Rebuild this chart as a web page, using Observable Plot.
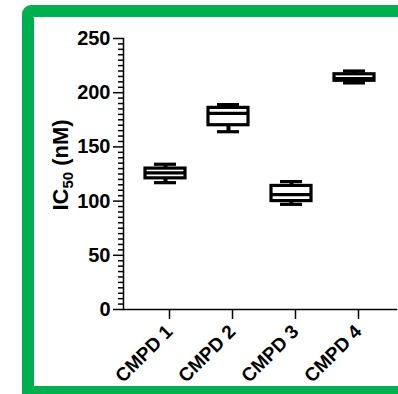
<!DOCTYPE html>
<html>
<head>
<meta charset="utf-8">
<script src="https://cdn.jsdelivr.net/npm/d3@7"></script>
<script src="https://cdn.jsdelivr.net/npm/@observablehq/plot@0.6"></script>
<style>
  body { margin: 0; background: #fff; }
  #wrap { position: relative; width: 398px; height: 394px; overflow: hidden; background: #fff; }
  #frame { position: absolute; left: 22px; top: 5px; width: 430px; height: 393px; border: 12px solid #00b050;
           border-radius: 9px 0 0 0; box-sizing: border-box; pointer-events: none; }
  svg { font-family: "Liberation Sans", Arial, sans-serif; font-weight: bold; }
</style>
</head>
<body>
<div id="wrap"><div id="chart"></div><div id="frame"></div></div>
<script>
const categories = ["CMPD 1", "CMPD 2", "CMPD 3", "CMPD 4"];
const minVals    = [117, 164, 97, 209];
const q1Vals     = [121, 170, 100, 211];
const medianVals = [126, 181, 106, 213];
const q3Vals     = [130, 186, 114, 217];
const maxVals    = [134, 189, 118, 220];
const yTicks = [0, 50, 100, 150, 200, 250];
const yMinorTicks = d3.range(0, 251, 5).filter(v => v % 50 !== 0);
const yLabelMain = "IC", yLabelSub = "50", yLabelRest = " (nM)";

const data = categories.map((c, i) => ({
  cat: c, min: minVals[i], q1: q1Vals[i], med: medianVals[i], q3: q3Vals[i], max: maxVals[i]
}));

const plot = Plot.plot({
  width: 398,
  height: 394,
  marginLeft: 123,
  marginRight: 2,
  marginTop: 38,
  marginBottom: 85,
  style: { fontFamily: "Liberation Sans, Arial, sans-serif", fontWeight: "bold", fontSize: "20px", color: "#000", background: "transparent" },
  x: { type: "band", domain: categories, paddingInner: 0.37, paddingOuter: 0.35, align: 0.5 },
  y: { domain: [0, 250] },
  marks: [
    Plot.axisY({ ticks: yMinorTicks, tickSize: 5, text: null, label: null, strokeWidth: 1.5 }),
    Plot.axisY({ ticks: yTicks, tickSize: 10, tickPadding: 3, label: null, strokeWidth: 1.5, fontSize: 20 }),
    Plot.axisX({ tickSize: 10, tickRotate: -45, tickPadding: 9, dx: 4, label: null, strokeWidth: 1.5, fontSize: 19 }),
    Plot.frame({ anchor: "left", strokeWidth: 1.5 }),
    Plot.frame({ anchor: "bottom", strokeWidth: 1.5 }),
    Plot.ruleX(data, { x: "cat", y1: "min", y2: "max", stroke: "#000", strokeWidth: 4 }),
    Plot.barY(data, { x: "cat", y1: "q1", y2: "q3", fill: "#fff", stroke: "#000", strokeWidth: 3.2 }),
    Plot.tickY(data, { x: "cat", y: "med", stroke: "#000", strokeWidth: 3.2 }),
    Plot.tickY(data, { x: "cat", y: "max", stroke: "#000", strokeWidth: 3.2, insetLeft: 9, insetRight: 9 }),
    Plot.tickY(data, { x: "cat", y: "min", stroke: "#000", strokeWidth: 3.2, insetLeft: 9, insetRight: 9 })
  ]
});

const svg = d3.select(plot);
const t = svg.append("text")
  .attr("transform", "translate(68,165) rotate(-90)")
  .attr("text-anchor", "middle")
  .attr("font-size", 22)
  .attr("font-weight", "bold")
  .attr("fill", "#000");
t.append("tspan").text(yLabelMain);
t.append("tspan").attr("font-size", 15).attr("dy", 5).text(yLabelSub);
t.append("tspan").attr("dy", -5).text(yLabelRest);

document.getElementById("chart").appendChild(plot);
</script>
</body>
</html>
